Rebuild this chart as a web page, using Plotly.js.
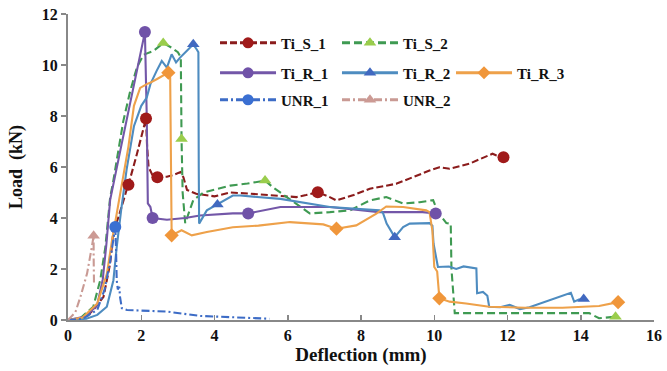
<!DOCTYPE html>
<html>
<head>
<meta charset="utf-8">
<script src="https://cdn.plot.ly/plotly-3.0.1.min.js"></script>
<style>html,body{margin:0;padding:0;background:#fff;}#chart{width:667px;height:371px;}</style>
</head>
<body>
<div id="chart"></div>
<script>
// ---- Data ----
const seriesNames = ["Ti_S_1", "Ti_S_2", "Ti_R_1", "Ti_R_2", "Ti_R_3", "UNR_1", "UNR_2"];

const tiS1_x = [0,0.3,0.5,0.69,0.97,1.15,1.24,1.38,1.6,1.65,1.88,2.06,2.13,2.16,2.2,2.3,2.44,2.7,2.9,3.07,3.15,3.25,3.5,4.0,4.43,5.0,5.6,6.24,6.5,6.82,7.1,7.33,7.8,8.24,8.96,9.5,9.87,10.14,10.42,10.96,11.3,11.59,11.7,11.89];
const tiS1_y = [0,0.03,0.12,0.39,0.91,2.21,3.5,4.04,5.1,5.3,6.5,7.55,7.9,6.8,6.0,5.7,5.6,5.62,5.7,5.8,5.6,5.1,4.95,4.85,5.0,4.95,4.9,4.82,4.9,5.01,4.85,4.69,4.9,5.15,5.34,5.66,5.86,5.99,5.93,6.13,6.35,6.52,6.45,6.38];
const tiS1_mx = [1.65,2.13,2.44,6.82,11.89];
const tiS1_my = [5.3,7.9,5.6,5.01,6.38];

const tiS2_x = [0,0.34,0.69,0.88,1.02,1.06,1.15,1.23,1.33,1.43,1.51,1.7,1.88,2.06,2.33,2.6,2.83,3.0,3.08,3.1,3.13,3.2,3.3,3.42,3.7,4.0,4.43,4.9,5.38,5.6,5.9,6.24,6.6,7.15,7.7,8.24,8.69,9.15,9.6,9.97,10.1,10.33,10.45,10.47,10.56,11.5,12.5,13.5,14.23,14.5,14.95];
const tiS2_y = [0,0.08,0.52,1.56,2.86,3.5,4.8,5.4,6.2,7.03,7.8,8.98,9.9,10.4,10.55,10.86,10.68,10.5,10.3,7.1,5.0,3.8,4.2,4.7,5.0,5.1,5.27,5.35,5.47,5.2,4.9,4.57,4.18,4.23,4.3,4.69,4.82,4.57,4.62,4.7,4.23,3.8,3.78,2.0,0.27,0.27,0.27,0.27,0.27,0.07,0.13];
const tiS2_mx = [2.6,3.1,5.38,14.95];
const tiS2_my = [10.86,7.1,5.47,0.13];

const tiR1_x = [0,0.5,0.8,0.95,1.05,1.15,1.45,1.75,1.95,2.1,2.15,2.16,2.18,2.25,2.31,2.7,3.2,3.6,4.5,4.92,5.8,7.15,8.5,9.68,10.04];
const tiR1_y = [0,0.15,0.6,1.6,3.0,4.7,6.8,8.9,10.3,11.29,8.0,5.5,4.57,4.43,4.0,3.93,4.0,4.1,4.18,4.18,4.43,4.43,4.23,4.23,4.18];
const tiR1_mx = [2.1,2.31,4.92,10.04];
const tiR1_my = [11.29,4.0,4.18,4.18];

const tiR2_x = [0,0.5,0.8,1.06,1.24,1.33,1.45,1.6,1.8,2.0,2.15,2.25,2.42,2.56,2.7,2.83,2.95,3.06,3.24,3.42,3.52,3.56,3.57,3.58,3.79,4.08,4.5,4.7,5.8,7.15,8.5,8.6,8.7,8.92,9.15,9.33,9.87,9.95,9.98,10.1,10.4,10.6,10.8,11.15,11.17,11.33,11.45,11.5,11.8,12.06,12.34,12.6,13.15,13.6,13.73,13.82,13.95,14.08];
const tiR2_y = [0,0.05,0.2,0.52,1.56,2.86,4.3,5.9,7.6,8.4,8.72,9.25,9.77,10.16,9.9,10.42,10.1,10.29,10.55,10.81,10.6,10.5,6.0,3.78,4.3,4.53,4.88,4.88,4.75,4.43,4.3,4.2,3.78,3.25,3.64,3.78,3.8,3.7,3.0,2.08,2.1,2.0,2.1,2.02,1.05,1.1,0.95,0.52,0.5,0.59,0.43,0.5,0.78,1.02,1.07,0.72,0.8,0.82];
const tiR2_mx = [3.42,4.08,8.92,14.08];
const tiR2_my = [10.81,4.53,3.25,0.82];

const tiR3_x = [0,0.4,0.8,1.06,1.2,1.35,1.5,1.65,1.8,1.97,2.15,2.24,2.42,2.6,2.74,2.79,2.81,2.83,3.1,3.38,3.79,4.5,5.2,6.06,6.97,7.33,7.87,8.42,8.69,9.15,9.78,9.87,9.95,10.0,10.08,10.14,10.42,10.87,11.5,12.5,13.5,14.5,15.02];
const tiR3_y = [0,0.1,0.65,1.8,3.1,4.3,5.5,6.8,8.4,9.1,9.25,9.3,9.44,9.57,9.7,9.5,6.0,3.32,3.52,3.32,3.45,3.64,3.7,3.84,3.75,3.58,3.71,4.17,4.45,4.43,4.3,4.23,3.5,2.08,1.9,0.85,0.72,0.65,0.52,0.48,0.48,0.55,0.7];
const tiR3_mx = [2.74,2.83,7.33,10.14,15.02];
const tiR3_my = [9.7,3.32,3.58,0.85,0.7];

const unr1_x = [0,0.4,0.8,1.0,1.15,1.29,1.31,1.33,1.36,1.4,1.42,1.47,1.61,2.0,2.7,3.6,4.5,5.0,5.5];
const unr1_y = [0,0.05,0.4,1.2,2.3,3.65,2.86,1.56,1.2,1.3,0.91,0.46,0.39,0.37,0.33,0.16,0.11,0.08,0.05];
const unr1_mx = [1.29];
const unr1_my = [3.65];

const unr2_x = [0,0.2,0.34,0.52,0.65,0.7,0.7,0.71];
const unr2_y = [0,0.3,0.91,1.82,2.86,3.3,2.5,1.45];
const unr2_mx = [0.7];
const unr2_my = [3.3];

const xTicks = [0,2,4,6,8,10,12,14,16];
const yTicks = [0,2,4,6,8,10,12];

// ---- Styles ----
const series = [
  {name: seriesNames[0], x: tiS1_x, y: tiS1_y, mx: tiS1_mx, my: tiS1_my, lc: "#8b1c1c", mc: "#a01a1a", dash: "7px,3px", sym: "circle"},
  {name: seriesNames[1], x: tiS2_x, y: tiS2_y, mx: tiS2_mx, my: tiS2_my, lc: "#3f9a52", mc: "#9acd4c", dash: "8px,4px", sym: "triangle-up"},
  {name: seriesNames[2], x: tiR1_x, y: tiR1_y, mx: tiR1_mx, my: tiR1_my, lc: "#7357a8", mc: "#7052a8", dash: "solid", sym: "circle"},
  {name: seriesNames[3], x: tiR2_x, y: tiR2_y, mx: tiR2_mx, my: tiR2_my, lc: "#4e8cc0", mc: "#4169c0", dash: "solid", sym: "triangle-up"},
  {name: seriesNames[4], x: tiR3_x, y: tiR3_y, mx: tiR3_mx, my: tiR3_my, lc: "#eea14a", mc: "#f0963a", dash: "solid", sym: "diamond"},
  {name: seriesNames[5], x: unr1_x, y: unr1_y, mx: unr1_mx, my: unr1_my, lc: "#3d6cc6", mc: "#3a6fd2", dash: "8px,3px,2px,3px", sym: "circle"},
  {name: seriesNames[6], x: unr2_x, y: unr2_y, mx: unr2_mx, my: unr2_my, lc: "#c99a94", mc: "#cc9a94", dash: "8px,3px,2px,3px", sym: "triangle-up"}
];

// legend grid: [paper x of legend box, paper y of row]
const legendPos = [[0.2509, 0.905], [0.459, 0.905], [0.2509, 0.807], [0.459, 0.807], [0.6536, 0.807], [0.2509, 0.719], [0.459, 0.719]];

const traces = [];
series.forEach(s => {
  traces.push({type: "scatter", mode: "lines", x: s.x, y: s.y, showlegend: false, hoverinfo: "skip",
    line: {color: s.lc, width: 2.1, dash: s.dash}});
});
series.forEach(s => {
  traces.push({type: "scatter", mode: "markers", x: s.mx, y: s.my, showlegend: false, hoverinfo: "skip",
    marker: {symbol: s.sym, size: s.sym === "diamond" ? 11 : (s.sym === "circle" ? 12 : 11), color: s.mc, line: {width: 0}}});
});
series.forEach((s, i) => {
  traces.push({type: "scatter", mode: "lines+markers", x: [null], y: [null], name: s.name,
    legend: i === 0 ? "legend" : "legend" + (i + 1),
    line: {color: s.lc, width: 3, dash: s.dash},
    marker: {symbol: s.sym, size: s.sym === "diamond" ? 10 : 11, color: s.mc, line: {width: 0}}});
});

const fontFam = "Liberation Serif, Times New Roman, serif";
function makeLegend(p) {
  return {orientation: "v", x: p[0], y: p[1], xanchor: "left", yanchor: "middle",
    bgcolor: "rgba(0,0,0,0)", borderwidth: 0,
    font: {family: fontFam, size: 15, color: "#111", weight: 700},
    itemwidth: 56};
}

const layout = {
  width: 667, height: 371,
  margin: {l: 68, r: 13, t: 14, b: 51, pad: 0},
  paper_bgcolor: "#ffffff", plot_bgcolor: "#ffffff",
  showlegend: true,
  xaxis: {
    range: [0, 16], tickvals: xTicks, ticktext: xTicks.map(String),
    showgrid: false, zeroline: false, showline: true, linecolor: "#888888", linewidth: 2,
    ticks: "inside", ticklen: 5, tickcolor: "#888888", tickwidth: 1.5,
    tickfont: {family: fontFam, size: 16, color: "#111", weight: 700},
    title: {text: "Deflection (mm)", font: {family: fontFam, size: 19, color: "#111", weight: 700}, standoff: 4}
  },
  yaxis: {
    range: [0, 12], tickvals: yTicks, ticktext: yTicks.map(String),
    showgrid: false, zeroline: false, showline: true, linecolor: "#888888", linewidth: 2,
    ticks: "outside", ticklen: 5, tickcolor: "#888888", tickwidth: 1.5,
    tickfont: {family: fontFam, size: 16, color: "#111", weight: 700},
    title: {text: "Load  (kN)", font: {family: fontFam, size: 18, color: "#111", weight: 700}, standoff: 14}
  }
};
legendPos.forEach((p, i) => { layout[i === 0 ? "legend" : "legend" + (i + 1)] = makeLegend(p); });

Plotly.newPlot("chart", traces, layout, {staticPlot: true, displayModeBar: false});
</script>
</body>
</html>
